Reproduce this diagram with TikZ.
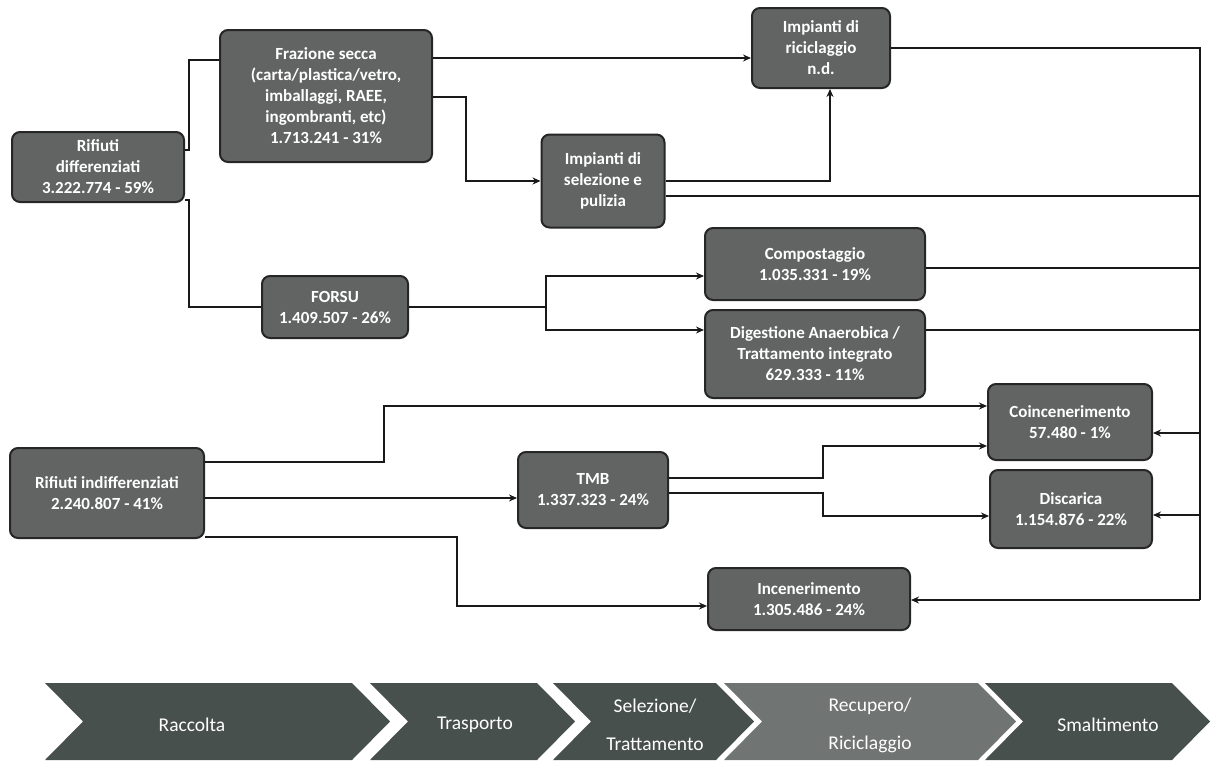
\documentclass[tikz,border=0pt]{standalone}
\usepackage{fontspec}
\setmainfont{Carlito}
\usetikzlibrary{arrows.meta}
\definecolor{boxgray}{RGB}{98,100,99}
\definecolor{chevdark}{RGB}{72,80,77}
\definecolor{chevlight}{RGB}{112,116,114}
\begin{document}
\begin{tikzpicture}[x=1pt, y=-1pt,
          every node/.style={align=center},
          box/.style={draw=black!85, line width=2pt, fill=boxgray, rounded corners=8pt,
                      text=white, font=\bfseries\fontsize{17}{21}\selectfont, inner sep=2pt},
          link/.style={draw=black!90, line width=2.2pt},
          arr/.style={link, -{Stealth[length=8pt, width=7pt]}},
          phase/.style={text=white, font=\fontsize{19.5}{38}\selectfont}]
            \useasboundingbox (0,0) rectangle (1216,766);
            % Raccolta differenziata
            \node[box, minimum width=172, minimum height=70] (dif) at (98,167) {Rifiuti\\differenziati\\3.222.774 - 59\%};
            \node[box, minimum width=212, minimum height=132] (secca) at (326,96) {Frazione secca\\(carta/plastica/vetro,\\imballaggi, RAEE,\\ingombranti, etc)\\1.713.241 - 31\%};
            \node[box, minimum width=138, minimum height=80] (ric) at (821,48) {Impianti di\\riciclaggio\\n.d.};
            \node[box, minimum width=123, minimum height=93] (sel) at (603,181) {Impianti di\\selezione e\\pulizia};
            \node[box, minimum width=146, minimum height=62] (forsu) at (335,307) {FORSU\\1.409.507 - 26\%};
            \node[box, minimum width=220, minimum height=72] (comp) at (815,264) {Compostaggio\\1.035.331 - 19\%};
            \node[box, minimum width=220, minimum height=88] (dig) at (815,354) {Digestione Anaerobica /\\Trattamento integrato\\629.333 - 11\%};
            % Raccolta indifferenziata
            \node[box, minimum width=194, minimum height=90] (indif) at (107,493) {Rifiuti indifferenziati\\2.240.807 - 41\%};
            \node[box, minimum width=150, minimum height=76] (tmb) at (593,490) {TMB\\1.337.323 - 24\%};
            \node[box, minimum width=164, minimum height=76] (coinc) at (1070,422) {Coincenerimento\\57.480 - 1\%};
            \node[box, minimum width=162, minimum height=78] (disc) at (1071,509) {Discarica\\1.154.876 - 22\%};
            \node[box, minimum width=202, minimum height=62] (incen) at (809,599) {Incenerimento\\1.305.486 - 24\%};
            \coordinate (bus) at (1200,48);
            \coordinate (busend) at (1200,600);
            % Collegamenti
            \draw[link] ([yshift=17pt]dif.east) -- ++(4,0) |- ([yshift=36pt]secca.west);
            \draw[link] ([yshift=-33pt]dif.east) -- ++(4,0) |- (forsu.west);
            \draw[arr] ([yshift=38pt]secca.east) -- ([yshift=38pt]secca.east -| ric.west);
            \draw[arr] ([yshift=-1pt]secca.east) -- ++(33,0) |- (sel.west);
            \draw[arr] (sel.east) -| ([xshift=9pt]ric.south);
            \draw[link] ([yshift=-15pt]sel.east) -- ([yshift=-15pt]sel.east -| bus);
            \draw[link] (ric.east) -| (busend);
            \draw[link] ([yshift=-4pt]comp.east) -- ([yshift=-4pt]comp.east -| bus);
            \draw[link] ([yshift=24pt]dig.east) -- ([yshift=24pt]dig.east -| bus);
            \draw[arr] (forsu.east) -- ++(137,0) |- ([yshift=-12pt]comp.west);
            \draw[arr] ([xshift=137pt]forsu.east) |- ([yshift=24pt]dig.west);
            \draw[arr] ([yshift=31pt]indif.east) -- ++(179,0) |- ([yshift=16pt]coinc.west);
            \draw[arr] ([yshift=-5pt]indif.east) -- ([yshift=-5pt]indif.east -| tmb.west);
            \draw[arr] ([yshift=-44pt]indif.east) -- ++(252,0) |- ([yshift=-7pt]incen.west);
            \draw[arr] ([yshift=12pt]tmb.east) -- ++(154,0) |- ([yshift=-24pt]coinc.west);
            \draw[arr] ([yshift=-3pt]tmb.east) -- ++(154,0) |- ([yshift=-7pt]disc.west);
            \draw[arr] ([yshift=-11pt]coinc.east -| bus) -- ([yshift=-11pt]coinc.east);
            \draw[arr] ([yshift=-6pt]disc.east -| bus) -- ([yshift=-6pt]disc.east);
            \draw[arr] (busend) -- (busend -| incen.east);
            % Fasi
            \foreach \xa/\xb/\xl/\col/\lab [count=\i] in {45/352/192/chevdark/Raccolta,
                    370/537/475/chevdark/Trasporto,
                    553/716/655/chevdark/{Selezione/\\Trattamento},
                    724/978/870/chevlight/{Recupero/\\Riciclaggio},
                    985/1172/1108/chevdark/Smaltimento}{
                \fill[\col] (\xa,683) -- (\xb,683) -- (\xb+38,721.5) -- (\xb,760) -- (\xa,760) -- (\xa+38,721.5) -- cycle;
                \node[phase] (phase-\i) at (\xl,725) {\lab};
            }
        \end{tikzpicture}
\end{document}
